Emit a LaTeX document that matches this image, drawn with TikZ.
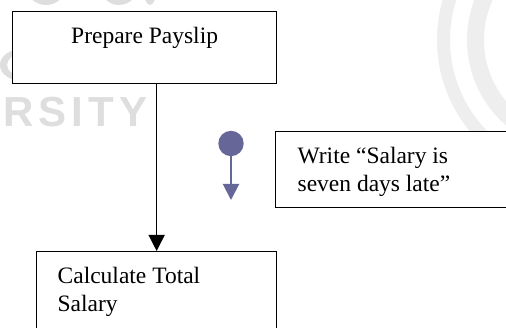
\documentclass[tikz,border=0pt]{standalone}
\usepackage{fontspec}
\setmainfont{Liberation Serif}
\newfontfamily\wmfont[LetterSpace=12]{Liberation Sans}
\usetikzlibrary{arrows.meta}
\definecolor{dotblue}{HTML}{666699}
\definecolor{wmgray}{HTML}{DEDEDE}
\definecolor{wmlight}{HTML}{EEEEEE}
\begin{document}
\begin{tikzpicture}[x=1pt,y=-1pt,
  box/.style={draw=black, fill=white, line width=1.3pt, inner sep=0pt, anchor=north west,
    font=\fontsize{23.5}{28}\selectfont},
  flow/.style={line width=1.3pt, -{Triangle[length=16pt,width=16pt]}},
  blueflow/.style={draw=dotblue, line width=2pt, -{Triangle[length=16pt,width=16pt]}},
  dotstyle/.style={circle, fill=dotblue, inner sep=0pt, minimum size=25.4pt}]
\useasboundingbox (0,0) rectangle (506,328);
\fill[white] (0,0) rectangle (506,328);
% watermark
\fill[wmlight, even odd rule] (580,40) circle (143pt) (580,40) circle (130pt);
\fill[wmlight, even odd rule] (580,40) circle (113pt) (580,40) circle (96pt);
\fill[wmgray] (46,-14) ellipse (20pt and 19pt);
\fill[wmgray] (119,-14) ellipse (19pt and 19pt);
\fill[wmgray] (150,-14) ellipse (7pt and 19pt);
\fill[wmgray, even odd rule] (22,65) ellipse (22pt and 16pt) (22,65) ellipse (15pt and 11pt);
\node[anchor=base west, inner sep=0pt, text=wmgray,
  font=\wmfont\bfseries\fontsize{42}{42}\selectfont] (wm) at (3,127) {RSITY};
% boxes
\node[box] (pay) at (12,11)
  {\parbox[t][72pt][t]{264pt}{\centering\rule{0pt}{32pt}Prepare Payslip}};
\node[box] (write) at (275,131)
  {\parbox[t][76pt][t]{240pt}{\raggedright\leftskip=22pt\rule{0pt}{31.7pt}Write “Salary is\\seven days late”}};
\node[box] (calc) at (36,251)
  {\parbox[t][84pt][t]{240pt}{\raggedright\leftskip=21pt\rule{0pt}{32pt}Calculate Total\\Salary}};
% connectors
\draw[flow] (calc.north |- pay.south) -- (calc.north);
\node[dotstyle] (dot) at (231,143.5) {};
\coordinate (dotend) at (231,200);
\draw[blueflow] (dot.center) -- (dotend);
\end{tikzpicture}
\end{document}
